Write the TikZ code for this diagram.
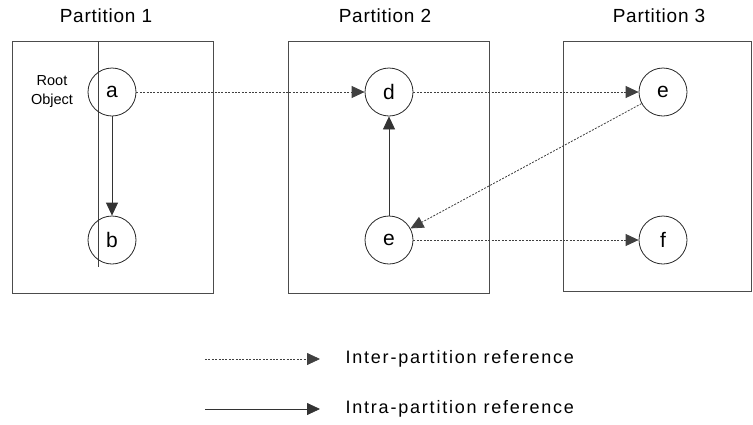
\documentclass[tikz,border=0pt]{standalone}
\usepackage{fontspec}
\setmainfont{Liberation Sans}
\usetikzlibrary{arrows.meta}
\begin{document}
\begin{tikzpicture}[x=1pt,y=-1pt,
  part/.style={draw=black!70, line width=0.9pt},
  obj/.style={circle, draw=black!85, line width=0.8pt, minimum size=48pt, inner sep=0pt, font=\fontsize{21}{22}\selectfont},
  title/.style={font=\fontsize{19}{22}\selectfont\addfontfeatures{LetterSpace=4}},
  legendtext/.style={font=\fontsize{18}{22}\selectfont\addfontfeatures{LetterSpace=10}, anchor=west},
  tip/.style={-{Triangle[length=13pt,width=12pt]}},
  inter/.style={tip, draw=black!75, line width=0.8pt, dash pattern=on 2pt off 1.4pt},
  intra/.style={tip, draw=black!80, line width=0.8pt}]
\useasboundingbox (0,0) rectangle (753,424);

% partitions
\draw[part] (12,41) rectangle (213,293);
\draw[part] (288,41) rectangle (489,293);
\draw[part] (563,41) rectangle (751,291);
\node[title] (t1) at (106,16) {Partition 1};
\node[title] (t2) at (385,16) {Partition 2};
\node[title] (t3) at (659,16) {Partition 3};

% stray guide line in the first partition
\coordinate (g1) at (98,41);
\coordinate (g2) at (98,267);
\draw[black!75, line width=0.7pt] (g1) -- (g2);

% objects
\node[obj] (a) at (112,92) {a};
\node[obj] (b) at (112,240) {b};
\node[obj] (d) at (389,92) {d};
\node[obj] (e2) at (389,240) {e};
\node[obj] (e3) at (663,92) {e};
\node[obj] (f) at (663,240) {f};
\node[align=center, font=\fontsize{14.5}{19}\selectfont] (root) at (52,92) {Root\\Object};

% references
\draw[intra] (a) -- (b);
\draw[intra] (e2) -- (d);
\draw[inter] (a) -- (d);
\draw[inter] (d) -- (e3);
\draw[inter] (e3) -- (e2);
\draw[inter] (e2) -- (f);

% legend
\coordinate (l1s) at (205,359);
\coordinate (l1e) at (320,359);
\coordinate (l2s) at (205,409);
\coordinate (l2e) at (320,409);
\draw[inter] (l1s) -- (l1e);
\draw[intra] (l2s) -- (l2e);
\node[legendtext] (lt1) at (342,359) {Inter-partition reference};
\node[legendtext] (lt2) at (342,409) {Intra-partition reference};
\end{tikzpicture}
\end{document}
